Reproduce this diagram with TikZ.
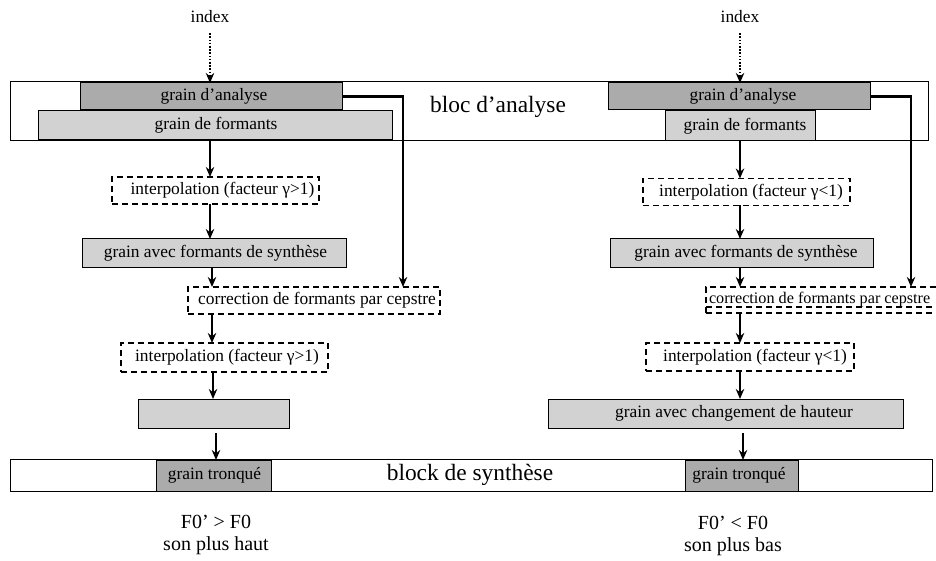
\documentclass[tikz,border=0pt]{standalone}
\usepackage{fontspec}
\setmainfont{Liberation Serif}
\usetikzlibrary{arrows.meta}
\begin{document}
\begin{tikzpicture}[x=0.5pt,y=-0.5pt,
  every node/.style={inner sep=0pt,outer sep=0pt,font=\fontsize{8.7pt}{10pt}\selectfont},
  dark/.style={draw=black,line width=0.5pt,fill=gray!66},
  light/.style={draw=black,line width=0.5pt,fill=gray!35},
  dbox/.style={draw=black,line width=0.55pt,dash pattern=on 3pt off 2pt,fill=white},
  blk/.style={draw=black,line width=0.5pt,fill=white},
  big/.style={font=\fontsize{11.7pt}{14pt}\selectfont},
  mid/.style={font=\fontsize{10pt}{12pt}\selectfont},
  arr/.style={-{Stealth[length=5pt,width=4.2pt]},line width=1.15pt},
  dotarr/.style={-{Stealth[length=5pt,width=4.2pt]},line width=1.3pt,dash pattern=on 0.8pt off 0.8pt}]
\useasboundingbox (0,0) rectangle (936,561);
% analysis block
\node[blk,minimum width=459pt,minimum height=29.5pt] (ba) at (469,111.5) {};
\node[big] (bat) at (498,107) {bloc d’analyse};
% synthesis block
\node[blk,minimum width=461pt,minimum height=16pt] (bs) at (471,475) {};
\node[big] (bst) at (470,475) {block de synthèse};
% ---------- left column ----------
\node (idx1) at (210,17) {index};
\node[dark,minimum width=131pt,minimum height=13.5pt] (ga1) at (211,96.5) {\hspace*{3pt}grain d’analyse};
\node[light,minimum width=177pt,minimum height=14.5pt] (gf1) at (215,125.5) {\hspace*{1pt}grain de formants};
\node[dbox,minimum width=103.5pt,minimum height=13.5pt] (i1) at (215.5,190.5) {\hspace*{7pt}interpolation (facteur γ>1)};
\node[light,minimum width=132pt,minimum height=14pt] (gs1) at (214,253) {\hspace*{1.5pt}grain avec formants de synthèse};
\node[dbox,minimum width=126pt,minimum height=13.5pt] (c1) at (314,300.5) {\hspace*{3pt}correction de formants par cepstre};
\node[dbox,minimum width=103.5pt,minimum height=14.5pt] (i2) at (224.5,357.5) {\hspace*{2.5pt}interpolation (facteur γ>1)};
\node[light,minimum width=75.5pt,minimum height=14.5pt] (e1) at (213.5,413.5) {};
\node[dark,minimum width=57.5pt,minimum height=15.5pt] (gt1) at (213.5,475.5) {\hspace*{1pt}grain tronqué};
\node[mid] (f1) at (216,522) {F0’ > F0};
\node[mid] (s1) at (216,546) {son plus haut};
% ---------- right column ----------
\node (idx2) at (740,17) {index};
\node[dark,minimum width=131pt,minimum height=13.5pt] (ga2) at (739,96.5) {\hspace*{4pt}grain d’analyse};
\node[light,minimum width=75pt,minimum height=15pt] (gf2) at (740,126) {\hspace*{5pt}grain de formants};
\node[dbox,minimum width=103.5pt,minimum height=13.5pt] (i3) at (746.5,192) {\hspace*{4.5pt}interpolation (facteur γ<1)};
\node[light,minimum width=131.5pt,minimum height=14pt] (gs2) at (741.5,253) {\hspace*{4.5pt}grain avec formants de synthèse};
\draw[line width=0.55pt,dash pattern=on 3pt off 2pt] (706,307) -- (960,307);
\node[dbox,minimum width=126pt,minimum height=13pt,fill=none] (c2) at (832,300) {};
\node[anchor=west,font=\fontsize{8.1pt}{9pt}\selectfont] (c2t) at (709,300) {correction de formants par cepstre};
\node[dbox,minimum width=104pt,minimum height=14pt] (i4) at (750,357) {\hspace*{5pt}interpolation (facteur γ<1)};
\node[light,minimum width=177.5pt,minimum height=14.5pt] (ch) at (725.5,413.5) {\hspace*{8.5pt}grain avec changement de hauteur};
\node[dark,minimum width=56.5pt,minimum height=15.5pt] (gt2) at (741.5,475.5) {\hspace*{-2.5pt}grain tronqué};
\node[mid] (f2) at (733,523) {F0’ < F0};
\node[mid] (s2) at (733,547) {son plus bas};
% ---------- connectors left ----------
\draw[dotarr] ([yshift=-5pt]idx1.south) -- (idx1.south |- ga1.north);
\coordinate (x1a) at (210,0);
\draw[arr] (gf1.south -| x1a) -- (i1.north -| x1a);
\draw[arr] (i1.south -| x1a) -- (gs1.north -| x1a);
\coordinate (x1b) at (212,0);
\draw[arr] (gs1.south -| x1b) -- (c1.north -| x1b);
\draw[arr] (c1.south -| x1b) -- (i2.north -| x1b);
\coordinate (x1c) at (213,0);
\draw[arr] (i2.south -| x1c) -- (e1.north -| x1c);
\coordinate (x1d) at (216,0);
\draw[arr] ([yshift=-2.5pt]e1.south -| x1d) -- (gt1.north -| x1d);
\coordinate (fb1) at (403,96.5);
\draw[arr] ([xshift=0.5pt]ga1.east) -- (fb1) -- (fb1 |- c1.north);
% ---------- connectors right ----------
\draw[dotarr] ([yshift=-5pt]idx2.south) -- (idx2.south |- ga2.north);
\coordinate (x2a) at (740,0);
\draw[arr] (gf2.south -| x2a) -- (i3.north -| x2a);
\draw[arr] (i3.south -| x2a) -- (gs2.north -| x2a);
\draw[arr] (gs2.south -| x2a) -- (c2.north -| x2a);
\draw[arr] (c2.south -| x2a) -- (i4.north -| x2a);
\draw[arr] (i4.south -| x2a) -- (ch.north -| x2a);
\coordinate (x2b) at (743,0);
\draw[arr] ([yshift=-2.5pt]ch.south -| x2b) -- (gt2.north -| x2b);
\coordinate (fb2) at (911,96.5);
\draw[arr] ([xshift=0.5pt]ga2.east) -- (fb2) -- (fb2 |- c2.north);
\end{tikzpicture}
\end{document}
